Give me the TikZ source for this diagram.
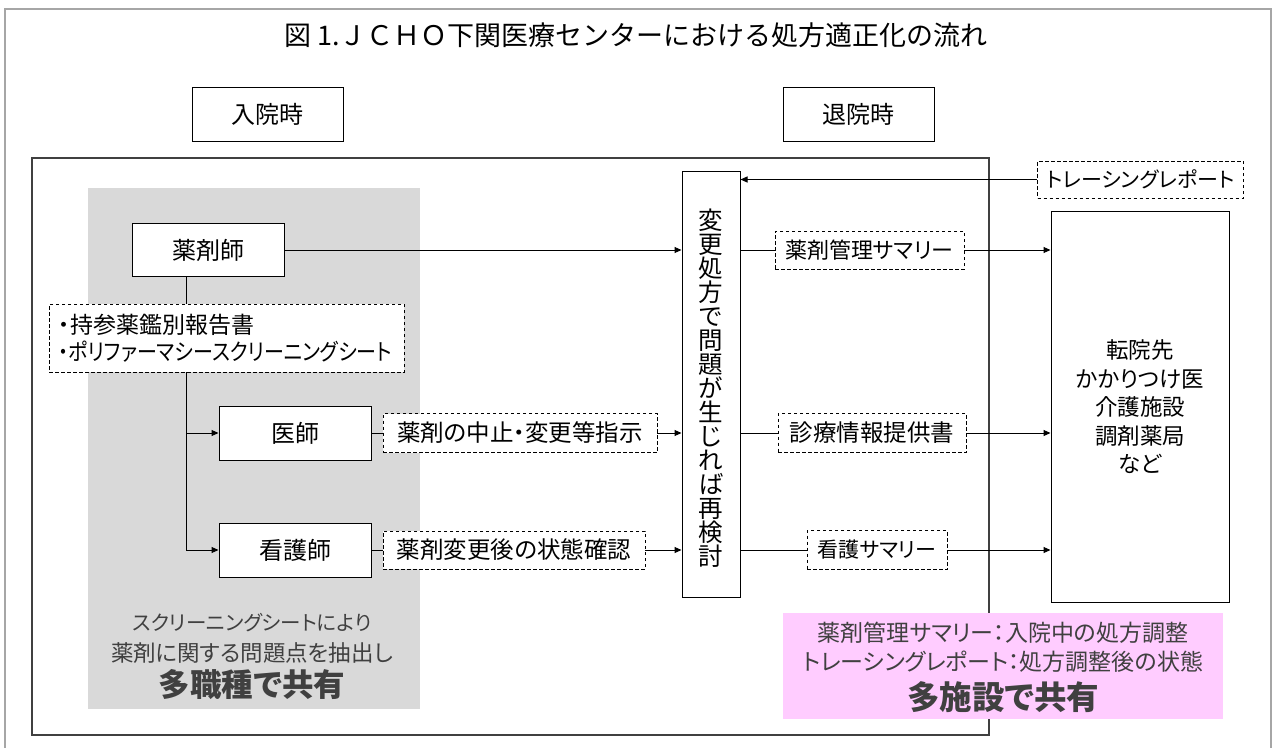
\documentclass[tikz,border=0pt]{standalone}
\usepackage{fontspec}
\setmainfont{Noto Sans CJK JP}[RawFeature={+palt}]
\newfontfamily\titlefont{Noto Sans CJK JP}
\usetikzlibrary{arrows.meta}
\definecolor{framegray}{HTML}{A6A6A6}
\definecolor{darkframe}{HTML}{404040}
\definecolor{grayfill}{HTML}{D9D9D9}
\definecolor{pinkfill}{HTML}{FFCCFF}
\definecolor{captiontext}{HTML}{404040}
\newcommand\fsz[1]{\fontsize{#1}{#1}\selectfont}
\begin{document}
\begin{tikzpicture}[x=1pt,y=-1pt,
  solidbox/.style={draw=black, line width=1pt, fill=white, inner sep=0pt, font=\fsz{24}},
  dashbox/.style={draw=black, line width=0.9pt, dash pattern=on 3.5pt off 2.5pt, fill=white, inner sep=0pt, font=\fsz{23.5}},
  conn/.style={draw=black, line width=1pt},
  arr/.style={conn, -{Triangle[length=7pt,width=6pt]}}]
\useasboundingbox (0,0) rectangle (1276,747);
\fill[white] (0,0) rectangle (1276,747);
% outer frame
\draw[framegray, line width=1.5pt] (5,9) rectangle (1271,760);
% title
\node[font=\titlefont\fsz{27}] (title) at (636,35) {図 1.ＪＣＨＯ下関医療センターにおける処方適正化の流れ};
% phase boxes
\node[solidbox, minimum width=151pt, minimum height=54pt] (nyuin) at (267.5,114) {入院時};
\node[solidbox, minimum width=151pt, minimum height=54pt] (taiin) at (858.5,114) {退院時};
% inner frame
\draw[darkframe, line width=1.5pt] (32,158) rectangle (989,735);
% gray region
\fill[grayfill] (88,188) rectangle (420,709);
\node[text=captiontext, font=\fsz{20.5}] (cap1) at (252,623) {スクリーニングシートにより};
\node[text=captiontext, font=\fsz{22.5}] (cap1b) at (252,653) {薬剤に関する問題点を抽出し};
\node[text=captiontext, font=\fsz{31.5}\bfseries] (cap2) at (252,685) {多職種で共有};
% pink region
\fill[pinkfill] (783,613) rectangle (1223,719);
\node[text=captiontext, font=\fsz{23}] (pcap1) at (1003,633) {薬剤管理サマリー：入院中の処方調整};
\node[text=captiontext, font=\fsz{23}] (pcap1b) at (1003,662) {トレーシングレポート：処方調整後の状態};
\node[text=captiontext, font=\fsz{32.5}\bfseries] (pcap2) at (1003,697) {多施設で共有};
% left nodes
\node[solidbox, minimum width=152pt, minimum height=53pt] (yaku) at (208,250) {薬剤師};
\node[dashbox, minimum width=355pt, minimum height=68pt] (list) at (226.5,338) {};
\node[anchor=west, font=\fsz{23}] (listtext1) at (55,325) {・持参薬鑑別報告書};
\node[anchor=west, font=\fsz{23}] (listtext2) at (55,352) {\scalebox{0.87}[1]{・ポリファーマシースクリーニングシート}};
\node[solidbox, minimum width=152pt, minimum height=54pt] (ishi) at (295,433) {医師};
\node[solidbox, minimum width=152pt, minimum height=54pt] (kango) at (295,550) {看護師};
\node[dashbox, minimum width=274pt, minimum height=39pt] (shiji) at (520,433) {薬剤の中止・変更等指示};
\node[dashbox, minimum width=262pt, minimum height=38pt] (kakunin) at (514,550) {薬剤変更後の状態確認};
% vertical box
\node[solidbox, minimum width=58pt, minimum height=426pt] (vb) at (711,384) {};
\node[align=center, font=\fontsize{24.5}{24}\selectfont] (vbtext) at (711,388) {変\\更\\処\\方\\で\\問\\題\\が\\生\\じ\\れ\\ば\\再\\検\\討};
% right side
\node[dashbox, font=\fsz{21}, minimum width=206pt, minimum height=37pt] (trace) at (1140.5,179.5) {トレーシングレポート};
\node[dashbox, font=\fsz{22}, minimum width=189pt, minimum height=38pt] (kanri) at (869.5,250) {薬剤管理サマリー};
\node[dashbox, minimum width=188pt, minimum height=39pt] (shinryo) at (872,433) {診療情報提供書};
\node[dashbox, font=\fsz{21}, minimum width=140pt, minimum height=39pt] (ksum) at (877,550) {看護サマリー};
\node[solidbox, minimum width=178pt, minimum height=391pt] (dest) at (1140,406.5) {};
\node[align=center, font=\fontsize{22.5}{28.5}\selectfont] (desttext) at (1140,407) {転院先\\かかりつけ医\\介護施設\\調剤薬局\\など};
% connectors
\coordinate (bx) at (186,0);
\draw[conn] (yaku.south -| bx) -- (list.north -| bx);
\draw[arr] (list.south -| bx) |- (kango.west);
\draw[arr] (ishi.west -| bx) -- (ishi.west);
\draw[arr] (yaku.east) -- (yaku.east -| vb.west);
\draw[conn] (ishi.east) -- (shiji.west);
\draw[arr] (shiji.east) -- (shiji.east -| vb.west);
\draw[conn] (kango.east) -- (kakunin.west);
\draw[arr] (kakunin.east) -- (kakunin.east -| vb.west);
\draw[arr] (trace.west) -- (trace.west -| vb.east);
\draw[conn] (kanri.west -| vb.east) -- (kanri.west);
\draw[arr] (kanri.east) -- (kanri.east -| dest.west);
\draw[conn] (shinryo.west -| vb.east) -- (shinryo.west);
\draw[arr] (shinryo.east) -- (shinryo.east -| dest.west);
\draw[conn] (ksum.west -| vb.east) -- (ksum.west);
\draw[arr] (ksum.east) -- (ksum.east -| dest.west);
\end{tikzpicture}
\end{document}
